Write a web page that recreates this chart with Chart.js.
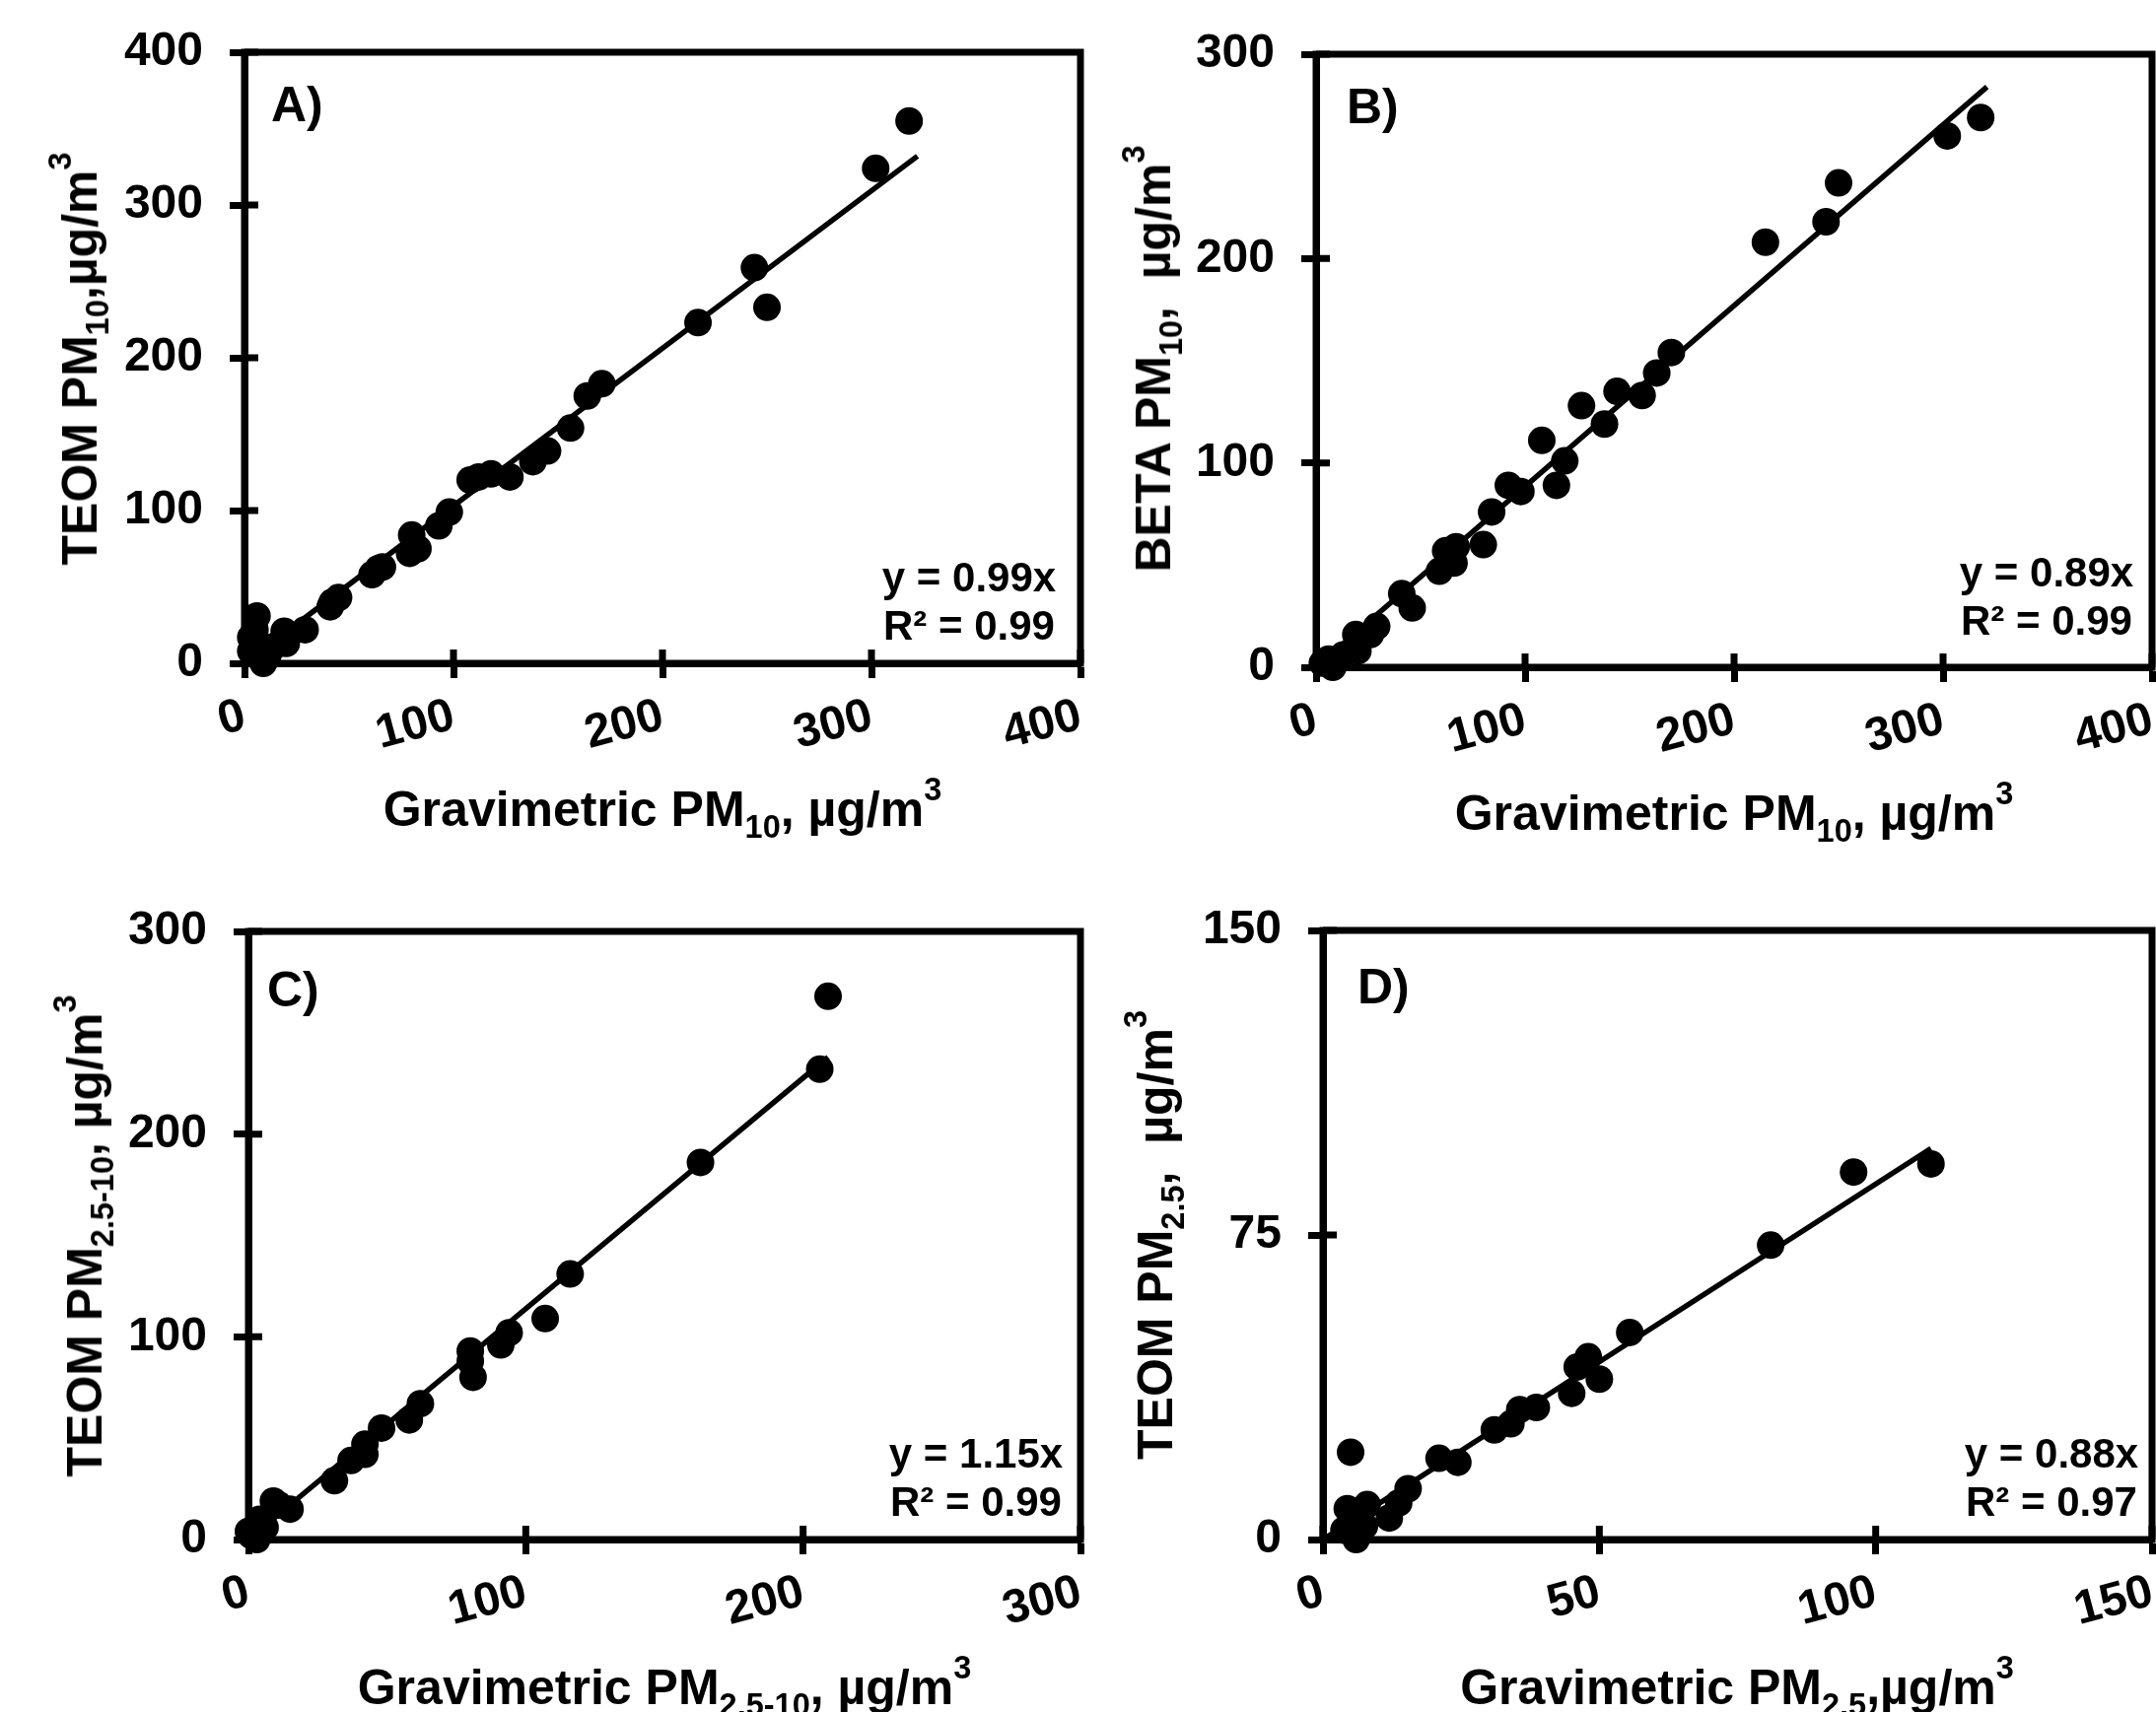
<!DOCTYPE html>
<html>
<head>
<meta charset="utf-8">
<script src="https://cdn.jsdelivr.net/npm/chart.js@4.4.1/dist/chart.umd.min.js"></script>
<style>
    body { margin: 0; background: #fff; width: 2187px; height: 1737px; position: relative; overflow: hidden; font-family: "Liberation Sans", Arial, sans-serif; }
    canvas { position: absolute; }
    .title { position: absolute; font-weight: bold; font-size: 50px; line-height: 50px; white-space: nowrap; color: #000; }
    .title sub, .title sup { font-size: 0.65em; line-height: 0; }
    .title sub { vertical-align: -0.38em; }
    .title sup { vertical-align: 0.8em; }
    .ytitle { transform: translate(-50%, -50%) rotate(-90deg); }
    .xtitle { transform: translateX(-50%); }
</style>
</head>
<body>
<canvas id="chartA" width="1100" height="870" style="left:0;top:0"></canvas>
<canvas id="chartB" width="1087" height="870" style="left:1100px;top:0"></canvas>
<canvas id="chartC" width="1100" height="867" style="left:0;top:870px"></canvas>
<canvas id="chartD" width="1087" height="867" style="left:1100px;top:870px"></canvas>

<div class="title ytitle" style="left:81px;top:364px">TEOM PM<sub>10</sub>,µg/m<sup>3</sup></div>
<div class="title ytitle" style="left:1170px;top:364px">BETA PM<sub>10</sub>,&nbsp; µg/m<sup>3</sup></div>
<div class="title ytitle" style="left:86px;top:1254px">TEOM PM<sub>2.5-10</sub>, µg/m<sup>3</sup></div>
<div class="title ytitle" style="left:1172px;top:1253px">TEOM PM<sub>2.5</sub>,&nbsp; µg/m<sup>3</sup></div>

<div class="title xtitle" style="left:672px;top:796px">Gravimetric PM<sub>10</sub>, µg/m<sup>3</sup></div>
<div class="title xtitle" style="left:1759px;top:800px">Gravimetric PM<sub>10</sub>, µg/m<sup>3</sup></div>
<div class="title xtitle" style="left:674px;top:1687px">Gravimetric PM<sub>2.5-10</sub>, µg/m<sup>3</sup></div>
<div class="title xtitle" style="left:1762px;top:1687px">Gravimetric PM<sub>2.5</sub>,µg/m<sup>3</sup></div>

<script>
// A) TEOM PM10 vs gravimetric PM10
const gravA = [318, 302, 244, 250, 217, 171, 164, 156, 145, 138, 127, 118, 112, 108, 98, 93, 80, 83, 79, 66, 64, 61, 45, 42, 41, 29, 19, 20, 14, 6, 5, 3, 4, 9, 11, 3];
const teomA = [355, 324, 259, 233, 223, 183, 175, 154, 139, 132, 122, 124, 122, 120, 99, 90, 84, 75, 72, 63, 62, 58, 43, 40, 37, 22, 21, 13, 11, 31, 22, 17, 6, 0, 4, 8];
const fitA = [[0, 0], [322, 332]];

// B) BETA PM10 vs gravimetric PM10
const gravB = [318, 302, 250, 244, 215, 170, 163, 156, 144, 138, 127, 119, 115, 108, 98, 92, 84, 80, 67, 62, 66, 59, 46, 41, 29, 26, 19, 20, 13, 8, 6, 3];
const betaB = [269, 260, 237, 218, 208, 154, 144, 133, 135, 119, 128, 101, 89, 111, 86, 89, 76, 60, 59, 57, 51, 47, 29, 36, 20, 16, 16, 8, 6, 0, 4, 2];
const fitB = [[0, 0], [321, 284]];

// C) TEOM PM2.5-10 vs gravimetric PM2.5-10
const gravC = [209, 206, 163, 116, 107, 94, 91, 80, 80, 81, 62, 58, 48, 42, 42, 37, 31, 15, 9, 11, 6, 1, 0, 4, 3];
const teomC = [268, 232, 186, 131, 109, 102, 96, 93, 88, 80, 67, 59, 55, 47, 42, 39, 29, 15, 19, 17, 6, 2, 4, 10, 0];
const fitC = [[0, 0], [209, 238]];

// D) TEOM PM2.5 vs gravimetric PM2.5
const gravD = [110, 96, 81, 55.5, 48, 46, 50, 45, 38.6, 35.6, 34, 31, 24.4, 21, 15.4, 13.7, 12, 5, 4.4, 8, 6, 3.8, 7.5, 6.5];
const teomD = [92.5, 90.5, 72.5, 51, 45, 42.5, 39.5, 36, 32.5, 32, 28.5, 27, 19, 20, 12.5, 9, 5.3, 21.5, 7.6, 8.6, 0, 2.3, 3.3, 5.3];
const fitD = [[0, 0], [110, 96.3]];

// axis ranges: [max, step]
const axisA = { x: [400, 100], y: [400, 100] };
const axisB = { x: [400, 100], y: [300, 100] };
const axisC = { x: [300, 100], y: [300, 100] };
const axisD = { x: [150, 50], y: [150, 75] };

Chart.defaults.font.family = '"Liberation Sans", Arial, sans-serif';
Chart.defaults.font.weight = 'bold';
Chart.defaults.color = '#000';

const LW = 7;

// frame, inward tick marks, panel letter and trend equation
const panelDecor = {
    id: 'panelDecor',
    afterDraw(chart, args, opts) {
        const { ctx, chartArea: a } = chart;
        ctx.save();
        ctx.strokeStyle = '#000';
        ctx.lineWidth = LW;
        ctx.lineJoin = 'miter';
        ctx.strokeRect(a.left, a.top, a.right - a.left, a.bottom - a.top);

        ctx.beginPath();
        chart.scales.x.ticks.forEach(t => {
            const px = chart.scales.x.getPixelForValue(t.value);
            ctx.moveTo(px, a.bottom);
            ctx.lineTo(px, a.bottom - 14);
        });
        chart.scales.y.ticks.forEach(t => {
            const py = chart.scales.y.getPixelForValue(t.value);
            ctx.moveTo(a.left, py);
            ctx.lineTo(a.left + 14, py);
        });
        ctx.stroke();

        ctx.fillStyle = '#000';
        ctx.font = 'bold 50px "Liberation Sans", Arial, sans-serif';
        ctx.textAlign = 'left';
        ctx.textBaseline = 'alphabetic';
        ctx.fillText(opts.label, a.left + opts.labelDx, a.top + opts.labelDy);

        ctx.font = 'bold 42px "Liberation Sans", Arial, sans-serif';
        ctx.textAlign = 'center';
        const cx = a.right - opts.eqDx;
        ctx.fillText(opts.eq[0], cx, a.bottom - opts.eqDy - 49);
        ctx.fillText(opts.eq[1], cx, a.bottom - opts.eqDy);
        ctx.restore();
    }
};

function toPoints(xs, ys) {
    return xs.map((x, i) => ({ x: x, y: ys[i] }));
}

function makeAxis(range, fit, isX) {
    return {
        type: 'linear',
        min: 0,
        max: range[0],
        border: { display: true, color: '#000', width: LW },
        grid: { drawOnChartArea: false, drawTicks: true, tickLength: 15, tickWidth: LW, color: '#000' },
        ticks: {
            stepSize: range[1],
            autoSkip: false,
            color: '#000',
            font: { size: 48, weight: 'bold' },
            padding: isX ? 10 : 27,
            minRotation: isX ? 15 : 0,
            maxRotation: isX ? 15 : 0
        },
        afterFit(scale) {
            if (isX) scale.height = fit; else scale.width = fit;
            scale.paddingLeft = 0;
            scale.paddingRight = 0;
            scale.paddingTop = 0;
            scale.paddingBottom = 0;
        }
    };
}

function buildPanel(id, xs, ys, fitLine, axis, layout, decor) {
    const ctx = document.getElementById(id).getContext('2d');
    return new Chart(ctx, {
        type: 'scatter',
        data: {
            datasets: [
                {
                    data: toPoints(xs, ys),
                    backgroundColor: '#000',
                    borderWidth: 0,
                    pointRadius: 14,
                    clip: false
                },
                {
                    type: 'line',
                    data: fitLine.map(p => ({ x: p[0], y: p[1] })),
                    borderColor: '#000',
                    borderWidth: 5.5,
                    pointRadius: 0,
                    fill: false,
                    clip: false
                }
            ]
        },
        options: {
            responsive: false,
            animation: false,
            layout: { autoPadding: false, padding: layout.padding },
            plugins: {
                legend: { display: false },
                tooltip: { enabled: false },
                panelDecor: decor
            },
            scales: {
                x: makeAxis(axis.x, layout.xH, true),
                y: makeAxis(axis.y, layout.yW, false)
            }
        },
        plugins: [panelDecor]
    });
}

buildPanel('chartA', gravA, teomA, fitA, axisA,
    { padding: { left: 0, top: 53, right: 4, bottom: 47 }, xH: 150, yW: 248 },
    { label: 'A)', labelDx: 27, labelDy: 70, eq: ['y = 0.99x', 'R² = 0.99'], eqDx: 113, eqDy: 24 });

buildPanel('chartB', gravB, betaB, fitB, axisB,
    { padding: { left: 0, top: 55, right: 4, bottom: 43 }, xH: 150, yW: 235 },
    { label: 'B)', labelDx: 31, labelDy: 70, eq: ['y = 0.89x', 'R² = 0.99'], eqDx: 107, eqDy: 33 });

buildPanel('chartC', gravC, teomC, fitC, axisC,
    { padding: { left: 0, top: 75, right: 4, bottom: 25 }, xH: 150, yW: 252 },
    { label: 'C)', labelDx: 19, labelDy: 76, eq: ['y = 1.15x', 'R² = 0.99'], eqDx: 106, eqDy: 24 });

buildPanel('chartD', gravD, teomD, fitD, axisD,
    { padding: { left: 0, top: 74, right: 4, bottom: 25 }, xH: 150, yW: 242 },
    { label: 'D)', labelDx: 35, labelDy: 74, eq: ['y = 0.88x', 'R² = 0.97'], eqDx: 102, eqDy: 24 });
</script>
</body>
</html>
